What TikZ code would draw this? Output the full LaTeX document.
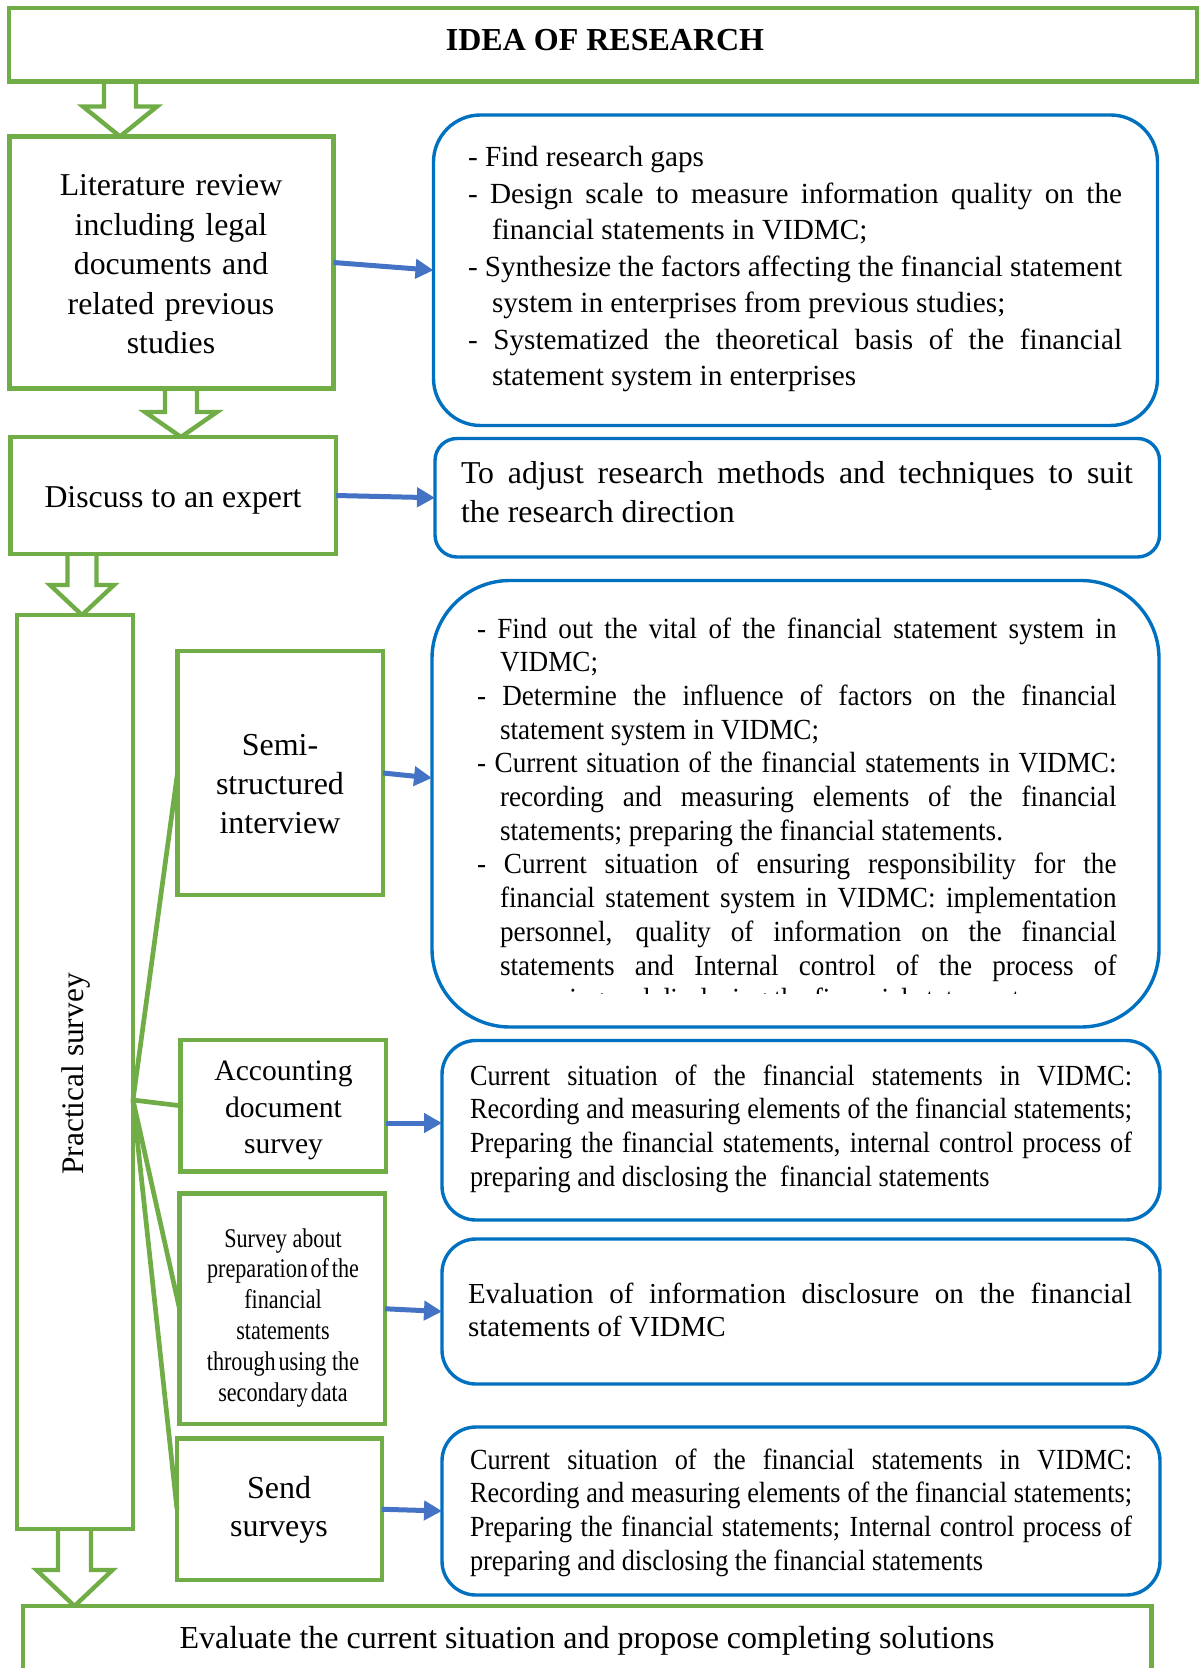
\documentclass[tikz,border=0pt]{standalone}
\usepackage{fontspec}
\setmainfont{Liberation Serif}
\newfontfamily\condA[FakeStretch=0.93]{Liberation Serif}
\newfontfamily\condB[FakeStretch=0.90]{Liberation Serif}
\newfontfamily\condC[FakeStretch=0.82]{Liberation Serif}
\usetikzlibrary{arrows.meta,calc,backgrounds}
\definecolor{gr}{HTML}{70AD47}
\definecolor{bl}{HTML}{0070C0}
\definecolor{ar}{HTML}{4472C4}
\tolerance=9999
\hyphenpenalty=10000
\exhyphenpenalty=10000
\tikzset{
  gbox/.style={draw=gr, line width=2.35pt, fill=white, inner sep=0pt, outer sep=0pt},
  bbox/.style={draw=bl, line width=1.7pt, inner sep=0pt, outer sep=0pt},
  btxt/.style={anchor=base west, inner sep=0pt, outer sep=0pt, align=justify},
  gtxt/.style={anchor=base, inner sep=0pt, outer sep=0pt, align=center},
  barrow/.style={draw=ar, line width=2.5pt, -{Triangle[length=9pt,width=9.5pt]}},
  fan/.style={draw=gr, line width=2.35pt},
  harrow/.style={draw=gr, line width=2.2pt, fill=white, line join=miter},
}
\newcommand\blockarrow[6]{%
  \draw[harrow] (#3-#4,0 |- #1.south)
    -- ($(#3-#4,0 |- #2.north)+(0,-#6)$)
    -- ($(#3-#5,0 |- #2.north)+(0,-#6)$)
    -- (#3,0 |- #2.north)
    -- ($(#3+#5,0 |- #2.north)+(0,-#6)$)
    -- ($(#3+#4,0 |- #2.north)+(0,-#6)$)
    -- (#3+#4,0 |- #1.south);}
\begin{document}
\begin{tikzpicture}[x=0.5pt,y=-0.5pt]
\useasboundingbox (0,0) rectangle (1200,1668);
\clip (0,0) rectangle (1200,1668);

% ---------- green boxes ----------
\node[gbox, minimum width=594pt, minimum height=36.75pt] (title) at (603,44.75) {};
\node[gbox, minimum width=162pt, minimum height=126pt] (lit) at (171.5,262.5) {};
\node[gbox, minimum width=162.75pt, minimum height=58.5pt] (disc) at (173.25,495.5) {};
\node[gbox, minimum width=58pt, minimum height=457pt] (prac) at (75,1072) {};
\node[gbox, minimum width=102.75pt, minimum height=122pt] (semi) at (280.25,773) {};
\node[gbox, minimum width=102.75pt, minimum height=65.75pt] (acc) at (283.25,1105.75) {};
\node[gbox, minimum width=102.75pt, minimum height=115.25pt] (surv) at (282.25,1308.75) {};
\node[gbox, minimum width=102.5pt, minimum height=70.75pt] (send) at (279.5,1509.25) {};
\node[gbox, minimum width=564.25pt, minimum height=50pt] (final) at (587.25,1656) {};

% ---------- blue rounded boxes ----------
\node[bbox, rounded corners=23.5pt, minimum width=362pt, minimum height=155.25pt] (b1) at (795.5,270.25) {};
\node[bbox, rounded corners=11pt, minimum width=362.25pt, minimum height=59.25pt] (b2) at (797.25,497.75) {};
\node[bbox, rounded corners=39pt, minimum width=363.5pt, minimum height=223.25pt] (b3) at (795.5,803.75) {};
\node[bbox, rounded corners=17pt, minimum width=359pt, minimum height=89.75pt] (b4) at (801,1130.25) {};
\node[bbox, rounded corners=17pt, minimum width=359pt, minimum height=72.5pt] (b5) at (801,1311.5) {};
\node[bbox, rounded corners=17pt, minimum width=359pt, minimum height=84pt] (b6) at (801,1511) {};

% ---------- texts in green boxes ----------
\node[gtxt, font={\bfseries\fontsize{16}{19}\selectfont}] (titleT) at (605,50.6) {IDEA OF RESEARCH};
\node[gtxt, text width=150pt, font={\fontsize{15.9}{19.8}\selectfont}] (litT) at (171,195.5)
  {Literature review\\including legal\\documents and\\related previous\\studies};
\node[gtxt, font={\fontsize{15.9}{19}\selectfont}] (discT) at (173,507) {Discuss to an expert};
\node[inner sep=0pt, rotate=90, font={\fontsize{15.7}{19}\selectfont}] (pracT) at (75.5,1074) {Practical survey};
\node[gtxt, text width=100pt, font={\fontsize{16}{19.6}\selectfont}] (semiT) at (280,755.5)
  {Semi-\\structured\\interview};
\node[gtxt, text width=100pt, font={\fontsize{14.8}{18.3}\selectfont}] (accT) at (283.5,1080.5)
  {Accounting\\document\\survey};
\node[gtxt, text width=100pt, font={\condC\fontsize{13.5}{15.4}\selectfont}] (survT) at (283,1247)
  {\spaceskip=0.5\fontdimen2\font\relax
   Survey\ \ about\\preparation of the\\financial\\statements\\through using\ \ the\\secondary data};
\node[gtxt, text width=100pt, font={\fontsize{16}{19.25}\selectfont}] (sendT) at (279,1498)
  {Send\\surveys};
\node[gtxt, font={\fontsize{16}{19}\selectfont}] (finalT) at (587,1648)
  {Evaluate the current situation and propose completing solutions};

% ---------- texts in blue boxes ----------
\node[btxt, text width=327pt, font={\fontsize{14.6}{18.25}\selectfont}] (b1T) at (468,167) {%
- Find research gaps\par
\hangindent=12pt\hangafter=1 - Design scale to measure information quality on the\linebreak financial statements in VIDMC;\par
\hangindent=12pt\hangafter=1 - Synthesize the factors affecting the financial statement\linebreak system in enterprises from previous studies;\par
\hangindent=12pt\hangafter=1 - Systematized the theoretical basis of the financial\linebreak statement system in enterprises\par};

\node[btxt, text width=336pt, font={\fontsize{15.9}{19.75}\selectfont}] (b2T) at (461,483) {%
To adjust research methods and techniques to suit\linebreak the research direction\par};

\begin{scope}
\clip (440,600) rectangle (1150,993);
\node[btxt, text width=319.75pt, font={\condA\fontsize{14.6}{16.85}\selectfont}] (b3T) at (477,638) {%
\hangindent=11.5pt\hangafter=1 - Find out the vital of the financial statement system in\linebreak VIDMC;\par
\hangindent=11.5pt\hangafter=1 - Determine the influence of factors on the financial\linebreak statement system in VIDMC;\par
\hangindent=11.5pt\hangafter=1 - Current situation of the financial statements in VIDMC:\linebreak recording and measuring elements of the financial\linebreak statements; preparing the financial statements.\par
\hangindent=11.5pt\hangafter=1 - Current situation of ensuring responsibility for the\linebreak financial statement system in VIDMC: implementation\linebreak personnel, quality of information on the financial\linebreak statements and Internal control of the process of\linebreak preparing and disclosing the financial statements\par};
\end{scope}

\node[btxt, text width=331pt, font={\condB\fontsize{14.6}{16.85}\selectfont}] (b4T) at (470,1085) {%
Current situation of the financial statements in VIDMC:\linebreak Recording and measuring elements of the financial statements;\linebreak Preparing the financial statements, internal control process of\linebreak preparing and disclosing the\ \ financial statements\par};

\node[btxt, text width=332pt, font={\fontsize{14.5}{16.5}\selectfont}] (b5T) at (468,1303.5) {%
Evaluation of information disclosure on the financial\linebreak statements of VIDMC\par};

\node[btxt, text width=331pt, font={\condB\fontsize{14.6}{16.85}\selectfont}] (b6T) at (470,1469) {%
Current situation of the financial statements in VIDMC:\linebreak Recording and measuring elements of the financial statements;\linebreak Preparing the financial statements; Internal control process of\linebreak preparing and disclosing the financial statements\par};

% ---------- fan lines ----------
\coordinate (J) at (prac.east |- 0,1100);
\draw[fan] (J) -- (semi.west);
\draw[fan] (J) -- (acc.west);
\draw[fan] (J) -- (surv.west);
\draw[fan] (J) -- (send.west);

% ---------- blue arrows ----------
\draw[barrow] (lit.east) -- (b1.west);
\draw[barrow] (disc.east) -- (b2.west);
\draw[barrow] (semi.east) -- (b3.west |- 0,778);
\draw[barrow] (acc.east |- 0,1123) -- (b4.west |- 0,1123);
\draw[barrow] (surv.east) -- (b5.west);
\draw[barrow] (send.east) -- (b6.west);

% ---------- hollow block arrows ----------
\begin{pgfonlayer}{background}
\blockarrow{title}{lit}{120}{16}{37}{30}
\blockarrow{lit}{disc}{181}{16}{36}{25}
\blockarrow{disc}{prac}{82}{14.5}{32}{30}
\blockarrow{prac}{final}{74.5}{16.5}{38}{36}
\end{pgfonlayer}
\end{tikzpicture}
\end{document}
